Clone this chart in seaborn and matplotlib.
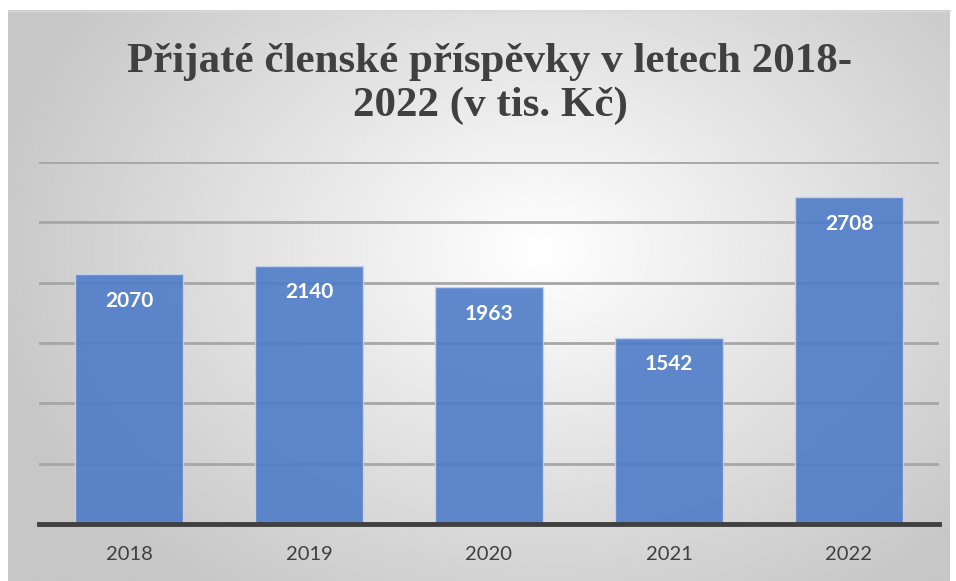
import numpy as np
import pandas as pd
import matplotlib
matplotlib.use("Agg")
import matplotlib.pyplot as plt
import seaborn as sns

years = ["2018", "2019", "2020", "2021", "2022"]
values = [2070, 2140, 1963, 1542, 2708]
title = "Přijaté členské příspěvky v letech 2018-\n2022 (v tis. Kč)"

sns.set_theme(style="white")
plt.rcParams['font.family'] = ['Lato', 'DejaVu Sans']

W, H = 956, 581
fig = plt.figure(figsize=(W / 100, H / 100), dpi=100)
fig.patch.set_facecolor("white")

# radial gradient background panel
bg = fig.add_axes([0, 0, 1, 1], zorder=-10)
bg.set_xlim(0, W)
bg.set_ylim(H, 0)
bg.axis("off")
x0, x1, y0, y1 = 8, 950, 10, 581
xx, yy = np.meshgrid(np.linspace(x0, x1, 400), np.linspace(y0, y1, 300))
cx, cy = 540, 250
d = np.sqrt(((xx - cx) / 560) ** 2 + ((yy - cy) / 420) ** 2)
d = np.clip(d, 0, 1)
val = 1.0 - 0.22 * d
bg.imshow(val, cmap="gray", vmin=0, vmax=1, extent=(x0, x1, y1, y0), aspect="auto", interpolation="bilinear")
bg.plot([x0, x1], [y0 + 0.5, y0 + 0.5], color="#d9d9d9", lw=1)

ax = fig.add_axes([39 / W, (H - 524) / H, 900 / W, (524 - 162) / H])
ax.set_facecolor("none")
df = pd.DataFrame({"year": years, "value": values})
sns.barplot(data=df, x="year", y="value", ax=ax, color="#4f7cc8", width=0.6,
            saturation=1, alpha=0.9, edgecolor="#c5d4ef", linewidth=1.0, zorder=3)
ax.set_ylim(0, 3000)
ax.set_xlim(-0.5, len(years) - 0.5)
ax.set_yticks(np.arange(0, 3001, 500))
ax.yaxis.grid(True, color="#a6a6a6", linewidth=2.0, zorder=1)
ax.set_axisbelow(True)
for s in ["top", "right", "left"]:
    ax.spines[s].set_visible(False)
ax.spines["bottom"].set_color("#404040")
ax.spines["bottom"].set_linewidth(3.5)
ax.spines["bottom"].set_zorder(5)
ax.set_yticklabels([])
ax.tick_params(axis="y", length=0)
ax.tick_params(axis="x", length=0, labelsize=14.5, labelcolor="#404040", pad=16)
ax.set_xlabel("")
ax.set_ylabel("")

for p, v in zip(ax.patches, values):
    ax.annotate(str(v), (p.get_x() + p.get_width() / 2, p.get_height()),
                xytext=(0, -19), textcoords="offset points", ha="center", va="center",
                color="white", fontsize=15, fontweight="bold", zorder=6)

fig.text(490 / W, 1 - 84 / H, title, ha="center", va="center",
         fontsize=31, fontweight="bold", color="#404040",
         family=["Liberation Serif", "DejaVu Serif"], linespacing=1.2)

fig.savefig("out.png", dpi=100)
